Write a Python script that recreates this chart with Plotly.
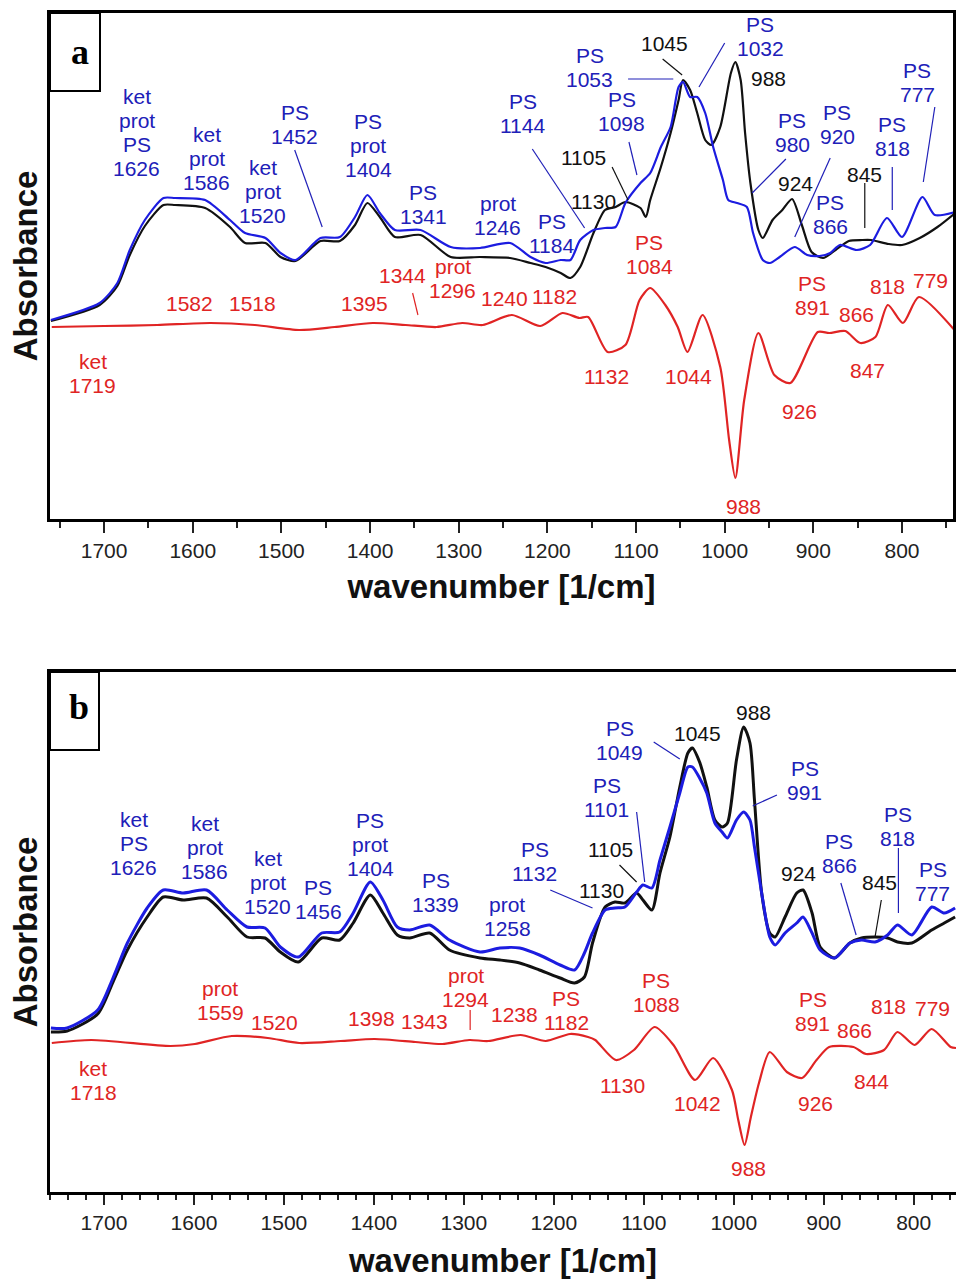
import plotly.graph_objects as go

# ---------------- Panel a data (wavenumber [1/cm], absorbance a.u.) ----------------
a_blue_w = [1760, 1705, 1685, 1671, 1654, 1633, 1620, 1586, 1558, 1541, 1518, 1501, 1484, 1456, 1434,
            1417, 1403, 1389, 1372, 1343, 1309, 1276, 1242, 1219, 1202, 1185, 1174, 1163, 1148, 1135,
            1123, 1112, 1095, 1084, 1072, 1061, 1052, 1047, 1039, 1031, 1022, 1013, 1002, 996, 986,
            975, 968, 957, 949, 938, 921, 907, 893, 881, 870, 851, 836, 817, 800, 777, 763, 740]
a_blue_v = [1.99, 2.16, 2.36, 2.69, 2.99, 3.21, 3.21, 3.19, 2.99, 2.86, 2.81, 2.66, 2.59, 2.81, 2.82,
            3.02, 3.24, 3.06, 2.89, 2.89, 2.72, 2.71, 2.76, 2.62, 2.56, 2.59, 2.59, 2.79, 2.89, 2.91,
            2.92, 3.16, 3.36, 3.46, 3.72, 3.92, 4.32, 4.37, 4.22, 4.22, 4.06, 3.72, 3.39, 3.19, 3.16,
            3.12, 2.86, 2.59, 2.56, 2.62, 2.72, 2.64, 2.63, 2.66, 2.74, 2.69, 2.74, 3.01, 2.82, 3.22, 3.04, 3.07]

a_black_w = [1760, 1705, 1685, 1671, 1654, 1633, 1620, 1586, 1558, 1541, 1518, 1501, 1484, 1456, 1434,
             1417, 1403, 1389, 1372, 1343, 1309, 1276, 1242, 1219, 1202, 1185, 1174, 1163, 1148, 1135,
             1123, 1112, 1095, 1089, 1084, 1072, 1061, 1052, 1047, 1039, 1031, 1022, 1015, 1005, 993,
             988, 982, 977, 971, 962, 957, 946, 935, 924, 913, 902, 889, 875, 860, 845, 835, 815, 800,
             780, 760, 740]
a_black_v = [1.98, 2.14, 2.33, 2.64, 2.93, 3.14, 3.14, 3.11, 2.92, 2.76, 2.76, 2.62, 2.58, 2.78, 2.78,
             2.94, 3.16, 3.02, 2.82, 2.84, 2.62, 2.62, 2.61, 2.56, 2.52, 2.46, 2.41, 2.52, 2.86, 3.09,
             3.12, 3.17, 3.11, 3.02, 3.19, 3.52, 3.86, 4.19, 4.39, 4.29, 4.06, 3.79, 3.74, 3.92, 4.46,
             4.57, 4.39, 3.86, 3.36, 2.89, 2.81, 2.99, 3.09, 3.20, 2.94, 2.67, 2.61, 2.69, 2.78, 2.79,
             2.79, 2.75, 2.74, 2.81, 2.92, 3.06]

a_red_w = [1759, 1700, 1640, 1580, 1530, 1480, 1440, 1397, 1360, 1325, 1296, 1273, 1240, 1208, 1183,
           1164, 1154, 1132, 1112, 1096, 1084, 1067, 1053, 1042, 1025, 1005, 995, 988, 978, 962, 944,
           926, 895, 882, 864, 847, 830, 816, 799, 781, 740]
a_red_v = [1.92, 1.93, 1.94, 1.96, 1.94, 1.89, 1.92, 1.96, 1.94, 1.92, 1.96, 1.94, 2.04, 1.93, 2.06,
           2.01, 2.02, 1.67, 1.74, 2.19, 2.31, 2.14, 1.92, 1.67, 2.04, 1.52, 0.79, 0.41, 1.19, 1.86, 1.44,
           1.36, 1.87, 1.86, 1.88, 1.76, 1.82, 2.14, 1.96, 2.22, 1.88]

# ---------------- Panel b data ----------------
b_blue_w = [1759, 1741, 1707, 1690, 1674, 1652, 1634, 1612, 1586, 1563, 1541, 1521, 1504, 1484, 1458,
            1438, 1423, 1404, 1390, 1374, 1360, 1338, 1316, 1282, 1260, 1238, 1216, 1193, 1177, 1166,
            1157, 1143, 1132, 1121, 1108, 1101, 1091, 1082, 1071, 1060, 1051, 1046, 1038, 1030, 1021,
            1013, 1007, 997, 989, 982, 977, 969, 960, 954, 943, 930, 923, 913, 904, 888, 871, 858, 843,
            829, 818, 802, 780, 766, 754]
b_blue_v = [1.64, 1.64, 1.82, 2.14, 2.49, 2.84, 3.02, 2.99, 3.02, 2.82, 2.65, 2.64, 2.45, 2.35, 2.59,
            2.60, 2.79, 3.10, 2.92, 2.65, 2.62, 2.67, 2.52, 2.40, 2.44, 2.44, 2.37, 2.27, 2.22, 2.39,
            2.59, 2.82, 2.84, 2.85, 3.00, 3.07, 3.04, 3.32, 3.65, 3.99, 4.25, 4.25, 4.14, 3.99, 3.69,
            3.60, 3.54, 3.72, 3.80, 3.72, 3.45, 2.99, 2.55, 2.47, 2.59, 2.69, 2.75, 2.59, 2.42, 2.34,
            2.49, 2.52, 2.50, 2.57, 2.67, 2.57, 2.85, 2.79, 2.84]

b_black_w = b_blue_w
b_black_v = [1.60, 1.61, 1.78, 2.10, 2.42, 2.75, 2.95, 2.92, 2.94, 2.75, 2.55, 2.54, 2.40, 2.30, 2.54,
             2.52, 2.69, 2.97, 2.79, 2.57, 2.54, 2.59, 2.42, 2.34, 2.32, 2.29, 2.22, 2.14, 2.09, 2.15,
             2.49, 2.85, 2.90, 2.89, 2.99, 2.92, 2.82, 3.19, 3.55, 4.05, 4.39, 4.44, 4.30, 4.05, 3.72,
             3.65, 3.69, 4.32, 4.65, 4.49, 3.92, 2.99, 2.59, 2.55, 2.75, 2.99, 3.02, 2.79, 2.45, 2.34,
             2.49, 2.54, 2.55, 2.54, 2.50, 2.49, 2.62, 2.69, 2.75]

b_red_w = [1758, 1714, 1626, 1599, 1558, 1518, 1483, 1437, 1399, 1354, 1324, 1294, 1273, 1237, 1209,
           1182, 1162, 1154, 1131, 1111, 1088, 1067, 1043, 1023, 1002, 995, 988, 981, 972, 960, 941,
           924, 908, 894, 867, 853, 833, 818, 799, 780, 759, 753]
b_red_v = [1.49, 1.52, 1.46, 1.48, 1.56, 1.54, 1.49, 1.51, 1.53, 1.50, 1.48, 1.52, 1.51, 1.57, 1.51,
           1.58, 1.55, 1.52, 1.32, 1.42, 1.65, 1.47, 1.12, 1.34, 1.02, 0.72, 0.47, 0.75, 1.09, 1.40, 1.20,
           1.14, 1.32, 1.45, 1.45, 1.38, 1.42, 1.60, 1.47, 1.63, 1.45, 1.44]

# ---------------- Peak labels: (text, wavenumber, absorbance) ----------------
a_labels_blue = [("ket<br>prot<br>PS<br>1626", 1663, 3.86), ("ket<br>prot<br>1586", 1584, 3.60),
                 ("ket<br>prot<br>1520", 1521, 3.27), ("PS<br>1452", 1485, 3.94),
                 ("PS<br>prot<br>1404", 1402, 3.73), ("PS<br>1341", 1340, 3.14),
                 ("prot<br>1246", 1256, 3.03), ("PS<br>1184", 1195, 2.85), ("PS<br>1144", 1228, 4.05),
                 ("PS<br>1053", 1152, 4.51), ("PS<br>1098", 1116, 4.07), ("PS<br>1032", 960, 4.82),
                 ("PS<br>980", 924, 3.86), ("PS<br>920", 873, 3.94), ("PS<br>866", 881, 3.04),
                 ("PS<br>818", 811, 3.82), ("PS<br>777", 783, 4.36)]
a_labels_black = [("1045", 1068, 4.75), ("988", 951, 4.40), ("1105", 1159, 3.61),
                  ("1130", 1148, 3.17), ("924", 920, 3.35), ("845", 842, 3.44)]
a_labels_red = [("ket<br>1719", 1713, 1.45), ("1582", 1604, 2.15), ("1518", 1533, 2.15),
                ("1395", 1406, 2.15), ("1344", 1363, 2.43), ("prot<br>1296", 1307, 2.40),
                ("1240", 1248, 2.20), ("1182", 1192, 2.22), ("PS<br>1084", 1085, 2.64),
                ("1132", 1133, 1.42), ("1044", 1041, 1.42), ("988", 979, 0.12), ("926", 916, 1.07),
                ("847", 839, 1.48), ("PS<br>891", 901, 2.23), ("866", 851, 2.04), ("818", 816, 2.32),
                ("779", 768, 2.38)]

b_labels_blue = [("ket<br>PS<br>1626", 1667, 3.49), ("ket<br>prot<br>1586", 1588, 3.45),
                 ("ket<br>prot<br>1520", 1518, 3.10), ("PS<br>1456", 1462, 2.93),
                 ("PS<br>prot<br>1404", 1404, 3.48), ("PS<br>1339", 1331, 3.00),
                 ("prot<br>1258", 1252, 2.76), ("PS<br>1132", 1221, 3.31), ("PS<br>1101", 1141, 3.95),
                 ("PS<br>1049", 1127, 4.52), ("PS<br>991", 921, 4.12), ("PS<br>866", 883, 3.39),
                 ("PS<br>818", 818, 3.66), ("PS<br>777", 779, 3.11)]
b_labels_black = [("988", 978, 4.80), ("1045", 1040, 4.59), ("1105", 1137, 3.43),
                  ("1130", 1147, 3.02), ("924", 928, 3.19), ("845", 838, 3.10)]
b_labels_red = [("ket<br>1718", 1712, 1.12), ("prot<br>1559", 1571, 1.92), ("1520", 1511, 1.70),
                ("1398", 1403, 1.74), ("1343", 1344, 1.71), ("prot<br>1294", 1298, 2.05),
                ("1238", 1244, 1.78), ("PS<br>1182", 1186, 1.82), ("PS<br>1088", 1086, 2.00),
                ("1130", 1124, 1.07), ("1042", 1040, 0.89), ("988", 984, 0.24), ("926", 909, 0.89),
                ("844", 847, 1.11), ("PS<br>891", 912, 1.81), ("866", 866, 1.62), ("818", 828, 1.86),
                ("779", 779, 1.84)]

# ---------------- Leader lines: (w1, v1, w2, v2) ----------------
a_leaders_blue = [(1485, 3.69, 1454, 2.92), (1217, 3.70, 1158, 2.91), (1109, 4.40, 1058, 4.40),
                  (1108, 3.77, 1099, 3.44), (1000, 4.76, 1029, 4.32), (931, 3.60, 969, 3.26),
                  (881, 3.61, 921, 2.82), (811, 3.52, 811, 3.09), (763, 4.12, 776, 3.37)]
a_leaders_black = [(1070, 4.60, 1048, 4.44), (1127, 3.52, 1109, 3.19), (842, 3.36, 842, 2.91)]
a_leaders_red = [(1352, 2.26, 1346, 2.04)]
b_leaders_blue = [(1204, 3.02, 1157, 2.84), (1108, 3.80, 1099, 3.10), (1089, 4.50, 1060, 4.33),
                  (952, 3.97, 979, 3.86), (881, 3.09, 864, 2.57), (817, 3.44, 817, 2.79)]
b_leaders_black = [(1127, 3.27, 1108, 3.10), (836, 2.92, 843, 2.55)]
b_leaders_red = [(1293, 1.82, 1293, 1.62)]

BLUE_LINE = "#1c1ce0"
BLUE_TXT = "#2020b8"
RED = "#e02424"
BLACK = "#111111"
FONT = "Liberation Sans, Arial, sans-serif"
LABEL_SIZE = 21
LINE_STEP = 24  # px between stacked label lines

fig = go.Figure()


def add_curve(w, v, color, xa, ya, width):
    fig.add_trace(go.Scatter(x=w, y=v, mode="lines", xaxis=xa, yaxis=ya,
                             line=dict(color=color, width=width, shape="spline", smoothing=0.7),
                             showlegend=False, hoverinfo="skip"))


def add_leaders(segs, color, xa, ya):
    xs, ys = [], []
    for w1, v1, w2, v2 in segs:
        xs += [w1, w2, None]
        ys += [v1, v2, None]
    fig.add_trace(go.Scatter(x=xs, y=ys, mode="lines", xaxis=xa, yaxis=ya,
                             line=dict(color=color, width=1.2), showlegend=False, hoverinfo="skip"))


def add_labels(labels, color, xref, yref):
    for text, w, v in labels:
        lines = text.split("<br>")
        n = len(lines)
        for i, ln in enumerate(lines):
            fig.add_annotation(text=ln, x=w, y=v, xref=xref, yref=yref, showarrow=False,
                               yshift=((n - 1) / 2 - i) * LINE_STEP,
                               font=dict(family=FONT, size=LABEL_SIZE, color=color),
                               xanchor="center", yanchor="middle")


# panel a (top)
add_curve(a_red_w, a_red_v, RED, "x", "y", 2.2)
add_curve(a_black_w, a_black_v, BLACK, "x", "y", 2.2)
add_curve(a_blue_w, a_blue_v, BLUE_LINE, "x", "y", 2.2)
add_leaders(a_leaders_blue, BLUE_TXT, "x", "y")
add_leaders(a_leaders_black, BLACK, "x", "y")
add_leaders(a_leaders_red, RED, "x", "y")
add_labels(a_labels_blue, BLUE_TXT, "x", "y")
add_labels(a_labels_black, BLACK, "x", "y")
add_labels(a_labels_red, RED, "x", "y")

# panel b (bottom)
add_curve(b_red_w, b_red_v, RED, "x2", "y2", 2.2)
add_curve(b_black_w, b_black_v, BLACK, "x2", "y2", 3.0)
add_curve(b_blue_w, b_blue_v, BLUE_LINE, "x2", "y2", 3.0)
add_leaders(b_leaders_blue, BLUE_TXT, "x2", "y2")
add_leaders(b_leaders_black, BLACK, "x2", "y2")
add_leaders(b_leaders_red, RED, "x2", "y2")
add_labels(b_labels_blue, BLUE_TXT, "x2", "y2")
add_labels(b_labels_black, BLACK, "x2", "y2")
add_labels(b_labels_red, RED, "x2", "y2")

W, H = 956, 1279
TITLE_FONT = dict(family=FONT, size=33, color="#111")
xa_common = dict(showline=True, linecolor="black", linewidth=3, mirror=True, ticks="outside",
                 tickwidth=2, tickcolor="#222", dtick=100, tick0=0, showgrid=False, zeroline=False,
                 automargin=False,
                 tickfont=dict(family=FONT, size=21, color="#222"))
ya_common = dict(showline=True, linecolor="black", linewidth=3, showticklabels=False, ticks="",
                 showgrid=False, zeroline=False, automargin=False,
                 title=dict(text="<b>Absorbance</b>", font=TITLE_FONT, standoff=0))

fig.update_layout(
    width=W, height=H, autosize=False, margin=dict(l=0, r=0, t=0, b=0, autoexpand=False),
    paper_bgcolor="white", plot_bgcolor="white",
    xaxis=dict(xa_common, domain=[50 / W, 953 / W], range=[1761, 742.5], anchor="y",
               title=dict(text="<b>wavenumber [1/cm]</b>", font=TITLE_FONT, standoff=14),
               ticklen=11, minor=dict(dtick=50, ticklen=6, ticks="outside", tickwidth=2, tickcolor="#222")),
    yaxis=dict(ya_common, domain=[1 - 519 / H, 1 - 13 / H], range=[0, 5.06], anchor="x", mirror=True),
    xaxis2=dict(xa_common, domain=[50 / W, 1.0], range=[1760, 753], anchor="y2",
                title=dict(text="<b>wavenumber [1/cm]</b>", font=TITLE_FONT, standoff=17),
                ticklen=10, minor=dict(dtick=20, ticklen=5, ticks="outside", tickwidth=2, tickcolor="#222")),
    yaxis2=dict(ya_common, domain=[1 - 1192 / H, 1 - 672 / H], range=[0, 5.20], anchor="x2", mirror=False),
)

# panel letter boxes
fig.add_shape(type="rect", xref="x domain", yref="y domain", x0=0, x1=50 / 903, y0=1 - 78 / 506, y1=1,
              line=dict(color="black", width=2), fillcolor="white")
fig.add_shape(type="rect", xref="x2 domain", yref="y2 domain", x0=0, x1=49 / 906, y0=1 - 78 / 520, y1=1,
              line=dict(color="black", width=2), fillcolor="white")
fig.add_annotation(text="<b>a</b>", xref="x domain", yref="y domain", x=30 / 903, y=1 - 39 / 506,
                   xanchor="center", yanchor="middle", showarrow=False,
                   font=dict(family="Liberation Serif, Times New Roman, serif", size=36, color="black"))
fig.add_annotation(text="<b>b</b>", xref="x2 domain", yref="y2 domain", x=29 / 906, y=1 - 35 / 520,
                   xanchor="center", yanchor="middle", showarrow=False,
                   font=dict(family="Liberation Serif, Times New Roman, serif", size=36, color="black"))

fig.write_html(
    "out.html",
    config={"responsive": False, "displayModeBar": False},
    post_script="document.body.style.margin='0';document.body.style.overflow='hidden';",
)
